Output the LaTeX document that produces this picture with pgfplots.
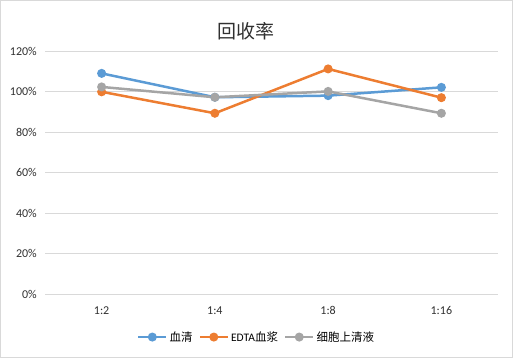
\documentclass[border=0pt]{standalone}
\usepackage{fontspec}
\setmainfont{Carlito}
\newfontfamily\cjk{Noto Sans CJK SC}
\usepackage{pgfplots}
\pgfplotsset{compat=1.18}
\definecolor{sBlue}{HTML}{5B9BD5}
\definecolor{sOrange}{HTML}{ED7D31}
\definecolor{sGray}{HTML}{A5A5A5}
\definecolor{gridc}{HTML}{D9D9D9}
\definecolor{tc}{HTML}{303030}
\begin{document}
\begin{tikzpicture}[x=1pt,y=1pt]
\path[draw=gridc, line width=0.8pt] (0.4,0.4) rectangle (512.6,357.6);
\node[font=\cjk\fontsize{19}{22}\selectfont, text=tc] at (246,327) {回收率};
\begin{axis}[
  at={(45pt,63.7pt)}, anchor=south west,
  scale only axis, width=453pt, height=243pt,
  xmin=-0.5, xmax=3.5, ymin=0, ymax=120,
  ytick={0,20,...,120},
  xtick={0,1,2,3}, xticklabels={1:2,1:4,1:8,1:16},
  axis line style={draw=none},
  major tick length=0pt,
  ymajorgrids, grid style={gridc, line width=0.75pt},
  yticklabel={\pgfmathprintnumber{\tick}\%},
  /pgf/number format/assume math mode=true,
  ticklabel style={font=\fontsize{12}{14}\selectfont, text=tc},
  yticklabel style={inner sep=0pt, xshift=-8pt},
  xticklabel style={inner sep=0pt, yshift=-12pt},
  clip=false,
  legend style={at={(0.467,-0.176)}, anchor=center, draw=none, fill=none,
    legend columns=3, font=\fontsize{11.5}{13}\selectfont, text=black,
    /tikz/every even column/.append style={column sep=4pt},
    /tikz/every odd column/.append style={column sep=0pt}},
  legend cell align=left,
  legend image code/.code={\draw[mark repeat=2, mark phase=2, #1] plot coordinates {(0pt,0pt)(14pt,0pt)(28pt,0pt)};},
  every axis plot/.append style={line width=2.5pt, mark=*, mark size=3.2pt},
]
\addplot[color=sBlue, mark options={solid, fill=sBlue}] coordinates {(0,109.1) (1,97.3) (2,98.1) (3,102.2)};
\addlegendentry{\cjk 血清}
\addplot[color=sOrange, mark options={solid, fill=sOrange}] coordinates {(0,100.0) (1,89.4) (2,111.3) (3,97.1)};
\addlegendentry{EDTA{\cjk 血浆}}
\addplot[color=sGray, mark options={solid, fill=sGray}] coordinates {(0,102.4) (1,97.3) (2,100.2) (3,89.4)};
\addlegendentry{\cjk 细胞上清液}
\end{axis}
\end{tikzpicture}
\end{document}
